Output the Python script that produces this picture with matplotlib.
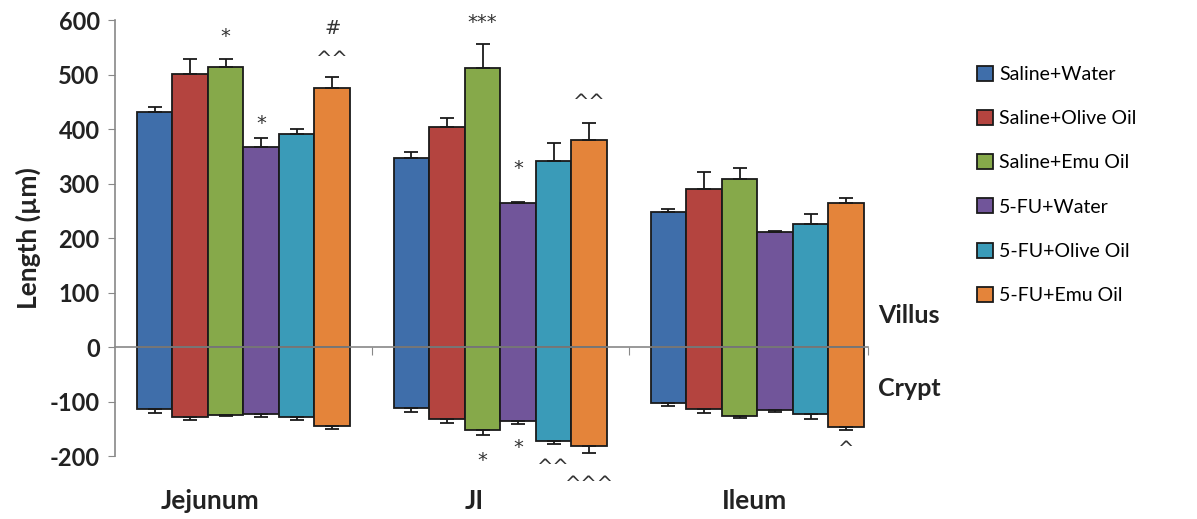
import numpy as np
import matplotlib.pyplot as plt

segments = ['Jejunum', 'JI', 'Ileum']
groups = ['Saline+Water', 'Saline+Olive Oil', 'Saline+Emu Oil',
          '5-FU+Water', '5-FU+Olive Oil', '5-FU+Emu Oil']
colors = ['#3F6EAA', '#B4443F', '#86A94A', '#71559A', '#3A9BB8', '#E4843A']

# villus length (positive) and crypt depth (negative), rows = groups, cols = segments
villus = np.array([
    [431, 348, 248],
    [502, 404, 291],
    [515, 512, 308],
    [367, 265, 211],
    [392, 341, 227],
    [475, 381, 265],
])
villus_err = np.array([
    [10, 10, 6],
    [27, 17, 30],
    [13, 44, 20],
    [17, 2, 2],
    [9, 34, 17],
    [20, 31, 8],
])
crypt = np.array([
    [-114, -111, -102],
    [-128, -132, -114],
    [-125, -152, -127],
    [-123, -135, -116],
    [-128, -172, -122],
    [-145, -182, -146],
])
crypt_err = np.array([
    [6, 7, 6],
    [6, 7, 7],
    [2, 10, 2],
    [5, 6, 2],
    [6, 6, 10],
    [6, 13, 6],
])

# significance marks: (group, segment, text, offset above/below error bar)
marks_up = [
    (2, 0, '*', 24), (3, 0, '*', 10), (5, 0, '^^', 16), (5, 0, '#', 72),
    (2, 1, '***', 22), (3, 1, '*', 44), (5, 1, '^^', 20),
]
marks_down = [
    (2, 1, '*', 28), (3, 1, '*', 26), (4, 1, '^^', 26), (5, 1, '^^^', 40),
    (5, 2, '^', 18),
]
label_x = [-0.13, 0.9, 1.99]

fig = plt.figure(figsize=(11.97, 5.19), dpi=100)
ax = fig.add_axes([0.096, 0.121, 0.629, 0.840])

n = len(groups)
width = 0.83 / n
x = np.arange(len(segments))
for i in range(n):
    pos = x + (i - (n - 1) / 2) * width
    ax.bar(pos, villus[i], width, color=colors[i], edgecolor='#1a1a1a', linewidth=1.3,
           label=groups[i], zorder=2)
    ax.bar(pos, crypt[i], width, color=colors[i], edgecolor='#1a1a1a', linewidth=1.3, zorder=2)
    ax.errorbar(pos, villus[i], yerr=[np.zeros(3), villus_err[i]], fmt='none',
                ecolor='#1a1a1a', elinewidth=1.3, capsize=5, capthick=1.3, zorder=3)
    ax.errorbar(pos, crypt[i], yerr=[crypt_err[i], np.zeros(3)], fmt='none',
                ecolor='#1a1a1a', elinewidth=1.3, capsize=5, capthick=1.3, zorder=3)

for g, s, txt, off in marks_up:
    px = s + (g - (n - 1) / 2) * width
    ax.text(px, villus[g, s] + villus_err[g, s] + off, txt, ha='center', va='bottom',
            fontsize=14, color='#333333', family='DejaVu Sans')
for g, s, txt, off in marks_down:
    px = s + (g - (n - 1) / 2) * width
    ax.text(px, crypt[g, s] - crypt_err[g, s] - off, txt, ha='center', va='top',
            fontsize=14, color='#333333', family='DejaVu Sans')

ax.set_xlim(-0.5, 2.43)
ax.set_ylim(-200, 600)
ax.set_yticks(np.arange(-200, 601, 100))
ax.set_yticklabels([str(v) for v in range(-200, 601, 100)], fontsize=17,
                   fontweight='bold', family='Lato', color='#222222')
ax.set_xticks([0.5, 1.5, 2.43])
ax.set_xticklabels([])
ax.spines['bottom'].set_position(('data', 0))
ax.spines['top'].set_visible(False)
ax.spines['right'].set_visible(False)
for sp in ['left', 'bottom']:
    ax.spines[sp].set_color('#888888')
    ax.spines[sp].set_linewidth(1.2)
    ax.spines[sp].set_zorder(2.5)
ax.tick_params(axis='y', direction='out', length=5, color='#888888', pad=6)
ax.tick_params(axis='x', direction='out', length=6, color='#888888')
ax.set_ylabel('Length (µm)', fontsize=19, fontweight='bold', family='Lato',
              labelpad=6, color='#222222')

for s, lx in enumerate(label_x):
    ax.text(lx, -282, segments[s], ha='center', va='center', fontsize=19,
            fontweight='bold', family='Lato', color='#222222')

ax.text(2.47, 58, 'Villus', ha='left', va='center', fontsize=18, fontweight='bold',
        family='Lato', clip_on=False, color='#222222')
ax.text(2.47, -75, 'Crypt', ha='left', va='center', fontsize=18, fontweight='bold',
        family='Lato', clip_on=False, color='#222222')

fig.legend(loc='upper left', bbox_to_anchor=(0.802, 0.907), frameon=False,
           prop={'family': 'Lato', 'size': 14}, handlelength=0.8, handleheight=0.8,
           handletextpad=0.3, labelspacing=1.39)

fig.savefig('out.png', dpi=100)
